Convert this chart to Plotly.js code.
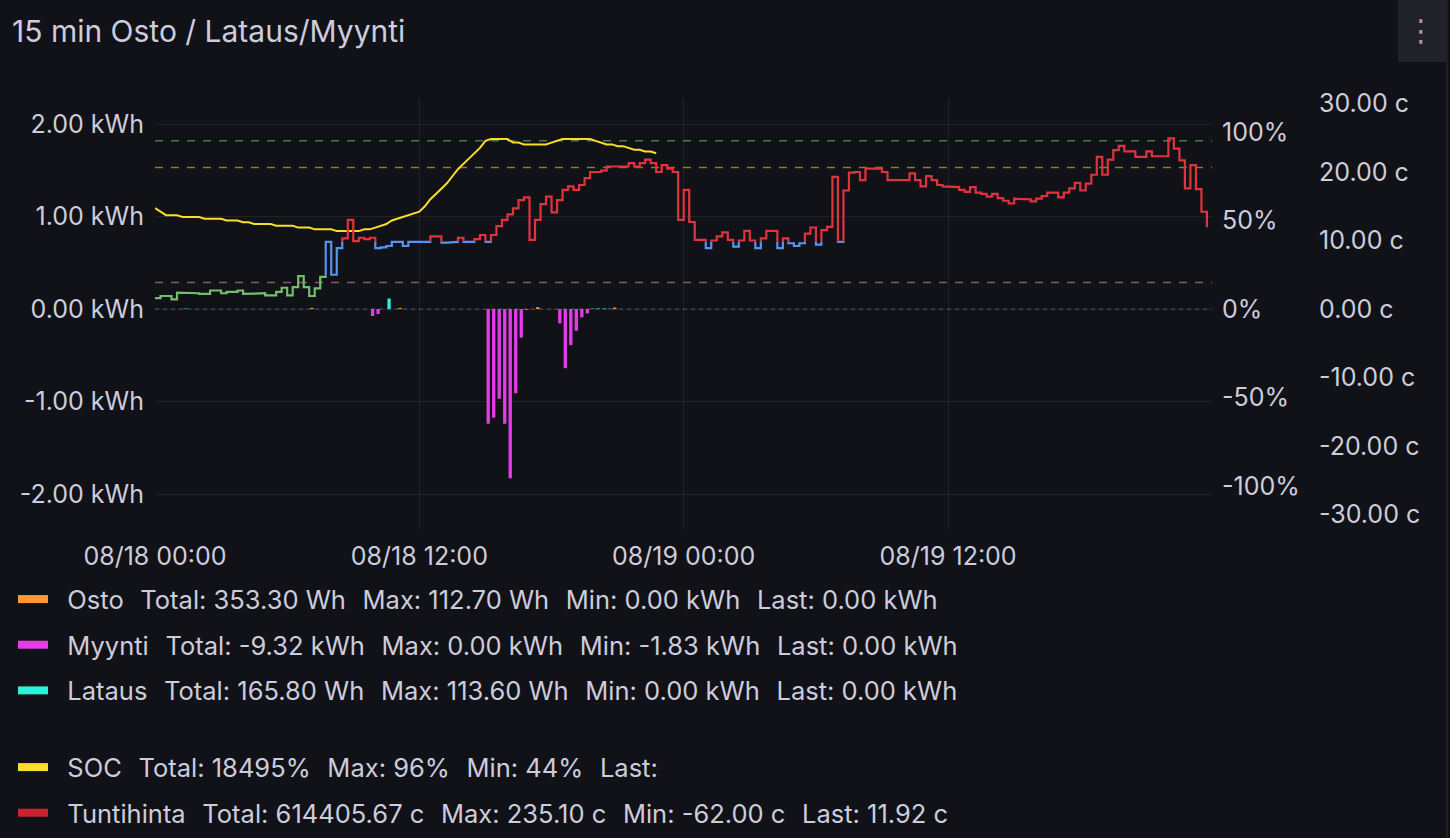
<!DOCTYPE html>
<html>
<head>
<meta charset="utf-8">
<script src="https://cdn.plot.ly/plotly-3.0.1.min.js"></script>
<style>
html,body{margin:0;padding:0;background:#111217;}
#chart{width:1450px;height:838px;}
</style>
</head>
<body>
<div id="chart"></div>
<script>
// ---------------- DATA ----------------
const seriesStart = '2025-08-18 00:00';
// Tuntihinta, cents, one value per 15 min (08/18 00:00 .. 08/19 23:45)
const priceCents = [
  1.6, 1.9, 1.9, 1.4,   2.4, 2.3, 2.3, 2.3,   2.2, 2.2, 2.7, 2.7,   2.3, 2.5, 2.5, 2.7,
  2.2, 2.3, 2.3, 2.3,   2.0, 2.0, 2.5, 3.1,   2.0, 3.2, 4.8, 3.2,   1.9, 3.0, 4.7, 9.8,
  5.0, 8.9, 10.3, 13.0, 9.9, 10.4, 10.2, 10.4, 8.9, 9.0, 9.2, 9.8,  9.8, 9.2, 9.8, 9.8,
  9.8, 9.8, 10.6, 10.6, 9.7, 9.7, 9.8, 10.4,  9.8, 9.8, 10.2, 10.8, 9.8, 10.8, 12.1, 13.0,
  13.8, 14.7, 15.9, 16.3, 10.1, 13.0, 15.3, 16.4, 14.1, 15.9, 17.4, 17.9, 17.4, 18.1, 19.1, 20.0,
  20.0, 20.2, 20.8, 20.8, 20.8, 20.8, 21.3, 20.8, 21.3, 21.8, 21.3, 20.0, 21.0, 20.5, 20.0, 13.0,
  17.4, 12.7, 10.1, 10.1, 8.9, 10.0, 10.6, 11.2, 10.1, 9.1, 10.0, 11.4, 10.0, 8.9, 10.3, 11.4,
  11.4, 8.9, 10.3, 9.6,  9.2, 9.6, 11.0, 11.9,  9.4, 11.5, 12.0, 19.3, 9.8, 17.3, 19.9, 20.0,
  18.8, 20.5, 20.5, 20.5, 20.0, 18.8, 18.8, 18.8, 18.8, 19.8, 18.8, 17.9, 19.4, 18.8, 18.1, 17.9,
  17.9, 17.8, 17.4, 17.1, 17.8, 17.0, 16.8, 16.4, 16.8, 16.2, 15.8, 15.4, 16.1, 16.0, 16.0, 15.7,
  16.1, 16.5, 17.0, 17.0, 16.3, 17.0, 17.6, 18.4, 17.3, 18.3, 19.6, 22.2, 19.6, 21.8, 23.2, 23.8,
  23.0, 23.0, 22.2, 22.2, 23.0, 22.3, 22.3, 22.3, 24.9, 23.4, 21.7, 17.6, 21.0, 17.5, 14.2, 11.92
];
// SOC, percent, one value per 15 min (08/18 00:00 .. 08/18 22:45)
const socPercent = [
  57, 55, 53, 53,  53, 52, 52, 52,  52, 51, 51, 51,  51, 50, 50, 50,
  49, 49, 48, 48,  48, 48, 47, 47,  47, 47, 46, 46,  46, 45, 45, 45,
  45, 44, 44, 44,  44, 44, 45, 45,  46, 47, 48, 50,  51, 52, 53, 54,
  55, 58, 62, 65,  68, 71, 75, 79,  82, 85, 88, 91,  95, 96, 96, 96,
  96, 94, 94, 93,  93, 93, 93, 93,  94, 95, 96, 96,  96, 96, 96, 96,
  95, 94, 93, 93,  92, 92, 91, 90,  90, 89, 89, 88
];
// 15 min energy bars (kWh), period start times
const ostoTimes = ['2025-08-18 07:00', '2025-08-18 11:00', '2025-08-18 17:15', '2025-08-18 20:45'];
const ostoKWh = [0.012, 0.012, 0.02, 0.015];
const myyntiTimes = ['2025-08-18 09:45', '2025-08-18 10:00',
  '2025-08-18 15:00', '2025-08-18 15:15', '2025-08-18 15:30', '2025-08-18 15:45',
  '2025-08-18 16:00', '2025-08-18 16:15', '2025-08-18 16:30', '2025-08-18 16:45',
  '2025-08-18 18:15', '2025-08-18 18:30', '2025-08-18 18:45', '2025-08-18 19:00',
  '2025-08-18 19:15', '2025-08-18 19:30'];
const myyntiKWh = [-0.076, -0.054, -1.24, -1.175, -0.97, -1.24, -1.83, -0.91, -0.31, -0.01,
  -0.155, -0.64, -0.39, -0.235, -0.09, -0.047];
const latausTimes = ['2025-08-18 01:15', '2025-08-18 10:30', '2025-08-18 19:45', '2025-08-18 20:00',
  '2025-08-18 20:15', '2025-08-18 20:30'];
const latausKWh = [0.005, 0.1136, 0.005, 0.006, 0.005, 0.004];

// price colour bands (cents): below first -> green, between -> blue, above -> red
const priceBandLimits = [4.9, 9.85];
// SOC threshold lines (percent)
const socThresholds = [95, 80, 15];

// tick labels
const kwhTickValues = [-2, -1, 0, 1, 2];
const kwhTickLabels = ['-2.00 kWh', '-1.00 kWh', '0.00 kWh', '1.00 kWh', '2.00 kWh'];
const pctTickValues = [-100, -50, 0, 50, 100];
const pctTickLabels = ['-100%', '-50%', '0%', '50%', '100%'];
const centTickValues = [-30, -20, -10, 0, 10, 20, 30];
const centTickLabels = ['-30.00 c', '-20.00 c', '-10.00 c', '0.00 c', '10.00 c', '20.00 c', '30.00 c'];

// legend texts
const S = '\u00a0\u00a0\u200a';
const LEAD = '\u00a0\u00a0';
const legendNames = ['Osto', 'Myynti', 'Lataus', 'SOC', 'Tuntihinta'];
const legendStats = [
  'Total: 353.30 Wh' + S + 'Max: 112.70 Wh' + S + 'Min: 0.00 kWh' + S + 'Last: 0.00 kWh',
  'Total: -9.32 kWh' + S + 'Max: 0.00 kWh' + S + 'Min: -1.83 kWh' + S + 'Last: 0.00 kWh',
  'Total: 165.80 Wh' + S + 'Max: 113.60 Wh' + S + 'Min: 0.00 kWh' + S + 'Last: 0.00 kWh',
  'Total: 18495%' + S + 'Max: 96%' + S + 'Min: 44%' + S + 'Last:',
  'Total: 614405.67 c' + S + 'Max: 235.10 c' + S + 'Min: -62.00 c' + S + 'Last: 11.92 c'
];

// ---------------- STYLE ----------------
const C = {
  osto: '#FF9830', myynti: '#E33DE6', lataus: '#2FEFD6', soc: '#FADE2A',
  red: '#E0323F', blue: '#5794F2', green: '#73BF69',
  text: '#ccccdc', bg: '#111217', grid: 'rgba(204,204,220,0.09)'
};
const thresholdColors = ['rgba(115,191,105,0.6)', 'rgba(250,210,60,0.55)', 'rgba(242,140,160,0.55)'];
const FONT = 'Inter, "Open Sans", sans-serif';
const TICK = 25;
const LEG = 25.5;
const QUARTER = 15 * 60 * 1000;
const T0 = Date.parse(seriesStart.replace(' ', 'T') + ':00Z');
const iso = ms => new Date(ms).toISOString().slice(0, 19).replace('T', ' ');

const priceMs = priceCents.map((_, i) => T0 + i * QUARTER);
const socTimes = socPercent.map((_, i) => iso(T0 + i * QUARTER));

// step (hv) path of price, then split by colour band
function stepPoints(xs, ys) {
  const p = [];
  for (let i = 0; i < ys.length; i++) {
    if (i > 0) p.push([xs[i], ys[i - 1]]);
    p.push([xs[i], ys[i]]);
  }
  return p;
}
function bandPath(pts, lo, hi) {
  const X = [], Y = [];
  let last = null;
  for (let i = 0; i < pts.length - 1; i++) {
    const [xa, ya] = pts[i], [xb, yb] = pts[i + 1];
    let seg = null;
    if (ya === yb) {
      if (ya >= lo && ya < hi) seg = [[xa, ya], [xb, yb]];
    } else {
      const a = Math.max(Math.min(ya, yb), lo), b = Math.min(Math.max(ya, yb), hi);
      if (b > a) seg = ya < yb ? [[xa, a], [xa, b]] : [[xa, b], [xa, a]];
    }
    if (seg) {
      if (!last || last[0] !== seg[0][0] || last[1] !== seg[0][1]) {
        if (X.length) { X.push(null); Y.push(null); }
        X.push(iso(seg[0][0])); Y.push(seg[0][1]);
      }
      X.push(iso(seg[1][0])); Y.push(seg[1][1]);
      last = seg[1];
    } else {
      last = null;
    }
  }
  return {X, Y};
}
const pricePts = stepPoints(priceMs, priceCents);
const bands = [
  {lo: -Infinity, hi: priceBandLimits[0], color: C.green},
  {lo: priceBandLimits[0], hi: priceBandLimits[1], color: C.blue},
  {lo: priceBandLimits[1], hi: Infinity, color: C.red}
];

const traces = [];
function barTrace(times, vals, color, name) {
  return {type: 'bar', x: times, y: vals, name: name, marker: {color: color, line: {width: 0}},
    xperiod: QUARTER, xperiodalignment: 'middle', width: 0.6 * QUARTER,
    yaxis: 'y', showlegend: false};
}
traces.push(barTrace(ostoTimes, ostoKWh, C.osto, 'Osto'));
traces.push(barTrace(myyntiTimes, myyntiKWh, C.myynti, 'Myynti'));
traces.push(barTrace(latausTimes, latausKWh, C.lataus, 'Lataus'));
traces.push({type: 'scatter', mode: 'lines', x: socTimes, y: socPercent, name: 'SOC', yaxis: 'y2',
  line: {color: C.soc, width: 2}, showlegend: false});
bands.forEach(b => {
  const p = bandPath(pricePts, b.lo, b.hi);
  traces.push({type: 'scatter', mode: 'lines', x: p.X, y: p.Y, name: 'Tuntihinta', yaxis: 'y3',
    connectgaps: false, line: {color: b.color, width: 2.2}, showlegend: false});
});
// legend entries
const legendColors = [C.osto, C.myynti, C.lataus, C.soc, '#C8242F'];
legendNames.forEach((n, i) => {
  traces.push({type: 'scatter', mode: 'lines', x: [null], y: [null], name: LEAD + n + S + legendStats[i],
    line: {color: legendColors[i], width: 8}, legend: i < 3 ? 'legend' : 'legend2',
    legendgroup: 'g' + i, showlegend: true});
});

// ---------------- LAYOUT ----------------
const PL = 155, PR = 1440, PT = 97, PB = 530;   // plot-area pixel box (paper)
const px = v => (v - PL) / (PR - PL);
const py = v => (PB - v) / (PB - PT);

const shapes = socThresholds.map((t, i) => ({
  type: 'line', xref: 'x domain', x0: 0, x1: 1, yref: 'y2', y0: t, y1: t, layer: 'below',
  line: {color: thresholdColors[i], width: 1.5, dash: '8px,8px'}
}));
shapes.push({type: 'line', xref: 'x domain', x0: 0, x1: 1, yref: 'y', y0: 0, y1: 0, layer: 'below',
  line: {color: 'rgba(204,204,220,0.35)', width: 1, dash: '4px,4px'}});
shapes.push({type: 'rect', xref: 'paper', yref: 'paper', x0: px(1398), x1: px(1446), y0: py(62), y1: py(0),
  fillcolor: '#202228', line: {width: 0}, layer: 'below'});
shapes.push({type: 'line', xref: 'paper', yref: 'paper', x0: px(1447), x1: px(1447), y0: py(838), y1: py(0),
  line: {color: '#2a2c32', width: 1}, layer: 'below'});

const legendCommon = {xref: 'container', yref: 'container', x: 13 / 1450, xanchor: 'left', yanchor: 'top',
  orientation: 'v', bgcolor: 'rgba(0,0,0,0)', borderwidth: 0, tracegroupgap: 9.5, itemwidth: 30,
  font: {family: FONT, size: LEG, color: C.text}, itemclick: false, itemdoubleclick: false};

const layout = {
  width: 1450, height: 838,
  paper_bgcolor: C.bg, plot_bgcolor: C.bg,
  margin: {l: PL, r: 1450 - PR, t: PT, b: 838 - PB, pad: 0, autoexpand: false},
  font: {family: FONT, size: TICK, color: C.text},
  title: {text: '15 min Osto / Lataus/Myynti', font: {family: FONT, size: 30, color: C.text},
    xref: 'container', yref: 'container', x: 12 / 1450, xanchor: 'left', y: 1 - 31 / 838, yanchor: 'middle',
    automargin: false},
  barmode: 'overlay',
  hovermode: false,
  xaxis: {type: 'date', domain: [0, px(1212)], range: [iso(T0), iso(T0 + 47.98 * 3600000)],
    tickformat: '%m/%d %H:%M', tick0: iso(T0), dtick: 12 * 3600000, tickangle: 0, automargin: false,
    showgrid: true, gridcolor: C.grid, zeroline: false, showline: false, ticks: '',
    ticklabelstandoff: 9, tickfont: {family: FONT, size: TICK, color: C.text}},
  yaxis: {range: [-221 / 92.5, 212 / 92.5], tickvals: kwhTickValues, ticktext: kwhTickLabels, automargin: false,
    showgrid: true, gridcolor: C.grid, zeroline: false, showline: false, ticks: '',
    ticklabelstandoff: 10, tickfont: {family: FONT, size: TICK, color: C.text}},
  yaxis2: {overlaying: 'y', side: 'right', anchor: 'x', range: [-221 / 1.77, 212 / 1.77], automargin: false,
    tickvals: pctTickValues, ticktext: pctTickLabels, showgrid: false, zeroline: false, showline: false,
    ticks: '', ticklabelstandoff: 9, tickfont: {family: FONT, size: TICK, color: C.text}},
  yaxis3: {overlaying: 'y', side: 'right', anchor: 'free', position: px(1310), range: [-221 / 6.85, 212 / 6.85],
    automargin: false,
    tickvals: centTickValues, ticktext: centTickLabels, showgrid: false, zeroline: false, showline: false,
    ticks: '', ticklabelstandoff: 8, tickfont: {family: FONT, size: TICK, color: C.text}},
  legend: Object.assign({}, legendCommon, {y: 1 - 576 / 838}),
  legend2: Object.assign({}, legendCommon, {y: 1 - 744 / 838}),
  shapes: shapes,
  annotations: [{text: '\u22ee', xref: 'paper', yref: 'paper', x: px(1421), y: py(31), showarrow: false,
    xanchor: 'center', yanchor: 'middle', font: {family: 'DejaVu Sans', size: 30, color: '#9a9ca4'}}]
};

Plotly.newPlot('chart', traces, layout, {displayModeBar: false, staticPlot: true});
</script>
</body>
</html>
